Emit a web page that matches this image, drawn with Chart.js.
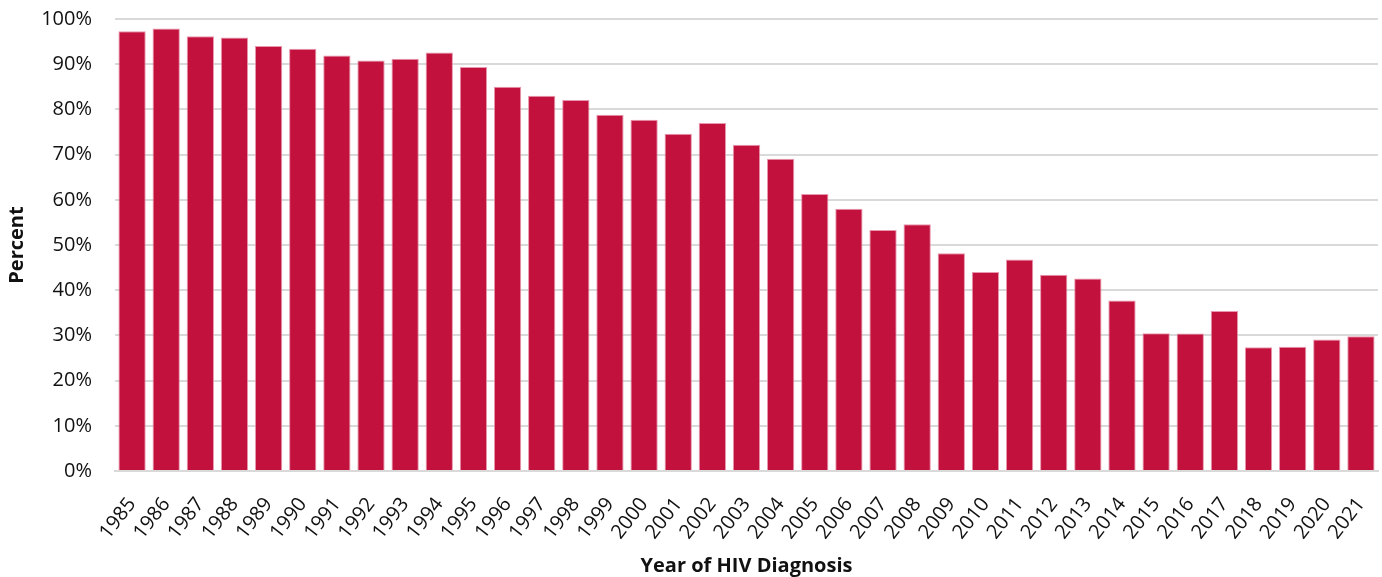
<!DOCTYPE html>
<html>
<head>
<meta charset="utf-8">
<script src="https://cdn.jsdelivr.net/npm/chart.js@4"></script>
<style>
  html, body { margin: 0; padding: 0; background: #fff; }
  #wrap { width: 1382px; height: 577px; }
</style>
</head>
<body>
<div id="wrap"><canvas id="barchart"></canvas></div>
<script>
// data
const years = ['1985', '1986', '1987', '1988', '1989', '1990', '1991', '1992', '1993', '1994',
  '1995', '1996', '1997', '1998', '1999', '2000', '2001', '2002', '2003', '2004',
  '2005', '2006', '2007', '2008', '2009', '2010', '2011', '2012', '2013', '2014',
  '2015', '2016', '2017', '2018', '2019', '2020', '2021'];
const percents = [97.3, 97.9, 96.2, 95.9, 94.0, 93.4, 91.9, 90.8, 91.2, 92.6,
  89.4, 85.0, 83.0, 82.1, 78.8, 77.7, 74.6, 77.0, 72.2, 69.1,
  61.3, 58.0, 53.3, 54.6, 48.2, 44.0, 46.8, 43.4, 42.6, 37.7,
  30.5, 30.4, 35.4, 27.4, 27.5, 29.1, 29.8];
const yTicks = [0, 10, 20, 30, 40, 50, 60, 70, 80, 90, 100];

const font = "'Open Sans', 'Liberation Sans', sans-serif";

new Chart(document.getElementById('barchart'), {
  type: 'bar',
  data: {
    labels: years,
    datasets: [{
      label: 'Percent',
      data: percents,
      backgroundColor: '#c3113e',
      borderColor: 'rgba(230, 140, 165, 0.9)',
      borderWidth: { top: 1, left: 1, right: 1, bottom: 0 },
      categoryPercentage: 1.0,
      barPercentage: 0.8
    }]
  },
  options: {
    responsive: true,
    maintainAspectRatio: false,
    animation: false,
    layout: { padding: { left: 0, right: 4, top: 19, bottom: 0 } },
    plugins: {
      legend: { display: false },
      tooltip: { enabled: false }
    },
    scales: {
      x: {
        // fix the axis band so the plot bottom sits where the reference has it
        afterFit: scale => {
          scale.height = 106;
          scale.paddingLeft = 0;
          scale.paddingRight = 0;
        },
        grid: { display: false, drawTicks: false },
        border: { color: '#d9d9d9', width: 2 },
        ticks: {
          color: '#111',
          font: { family: font, size: 20 },
          minRotation: 52,
          maxRotation: 52,
          padding: 22,
          autoSkip: false
        },
        title: {
          display: true,
          text: 'Year of HIV Diagnosis',
          color: '#111',
          font: { family: font, size: 20, weight: 'bold' },
          padding: { top: 0, bottom: -1 }
        }
      },
      y: {
        min: 0,
        max: 100,
        afterBuildTicks: axis => { axis.ticks = yTicks.map(v => ({ value: v })); },
        afterFit: scale => {
          scale.width = 115;
          scale.paddingTop = 0;
          scale.paddingBottom = 0;
        },
        grid: { color: '#d9d9d9', lineWidth: 2, drawTicks: false },
        border: { display: false },
        ticks: {
          color: '#111',
          font: { family: font, size: 20 },
          padding: 23,
          callback: v => v + '%'
        },
        title: {
          display: true,
          text: 'Percent',
          color: '#111',
          font: { family: font, size: 20, weight: 'bold' },
          padding: { top: 5, bottom: 0 }
        }
      }
    }
  }
});
</script>
</body>
</html>
